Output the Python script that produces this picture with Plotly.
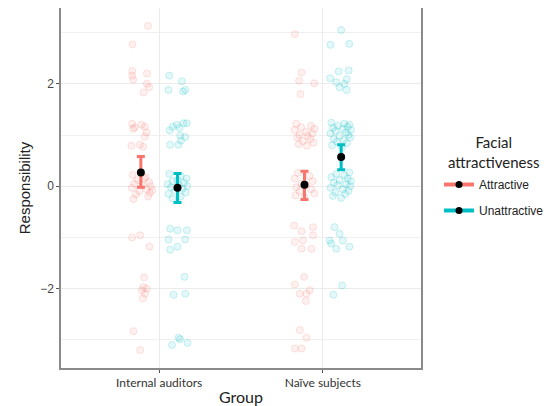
import plotly.graph_objects as go

groups = ["Internal auditors", "Naïve subjects"]
conditions = ["Attractive", "Unattractive"]
colors = {"Attractive": "#F8766D", "Unattractive": "#00BFC4"}
rgb = {"Attractive": "248,118,109", "Unattractive": "0,191,196"}

# Summary estimates (mean and interval) per group
att_mean = [0.27, 0.03]
att_hi = [0.58, 0.29]
att_lo = [-0.02, -0.26]
unatt_mean = [-0.03, 0.57]
unatt_hi = [0.25, 0.81]
unatt_lo = [-0.32, 0.32]

# Raw responses (y) and horizontal jitter (xj) per group x condition
ia_att_y = [3.13, 2.77, 2.25, 2.16, 2.08, 2.2, 2.0, 1.93, 1.83,
            1.22, 1.12, 1.2, 1.16, 1.05, 0.97, 0.79, 0.81, 0.77, 1.15,
            0.22, 0.18, 0.12, 0.08, 0.05, 0.02, 0.0, -0.03, -0.06, -0.1, -0.13, -0.16, -0.2, -0.25, 0.15, -0.08,
            -1.0, -0.96, -1.18,
            -1.78, -1.97, -2.03, -2.1, -2.0, -2.19, -2.83, -3.2]
ia_att_xj = [0.043, -0.051, -0.053, -0.053, -0.047, 0.037, 0.037, 0.05, 0.016,
             -0.053, -0.047, 0.004, 0.024, 0.034, 0.024, -0.058, -0.006, 0.014, -0.037,
             -0.05, 0.03, -0.02, 0.05, -0.04, 0.01, 0.06, -0.055, 0.035, -0.01, 0.055, -0.03, 0.045, -0.045, 0.02, 0.07,
             -0.053, -0.004, 0.053,
             0.02, 0.016, 0.006, 0.026, 0.037, 0.012, -0.045, -0.004]

ia_unatt_y = [2.16, 1.88, 2.05, 1.88, 1.85,
              1.09, 1.16, 1.2, 1.14, 1.23, 1.23, 0.99, 0.96, 0.89, 0.81, 0.81,
              0.24, 0.2, 0.15, 0.1, 0.07, 0.04, 0.02, 0.0, -0.02, -0.05, -0.09, -0.12, -0.15, -0.2, -0.24, 0.12,
              -0.83, -0.86, -0.86, -1.04, -1.04, -1.18, -1.24,
              -1.77, -2.12, -2.1, -2.96, -3.1, -2.99, -3.06]
ia_unatt_xj = [-0.05, -0.055, 0.027, 0.047, 0.033,
               -0.048, -0.03, -0.004, 0.012, 0.037, 0.057, 0.016, 0.047, 0.021, -0.045, 0.006,
               -0.05, 0.02, 0.055, -0.03, 0.04, -0.06, 0.01, 0.06, -0.04, 0.03, -0.015, 0.05, -0.055, 0.02, -0.03, 0.0,
               -0.045, 0.0, 0.057, -0.055, 0.047, 0.0, -0.045,
               0.043, -0.024, 0.047, 0.006, -0.034, 0.016, 0.061]

nv_att_y = [2.97, 2.22, 2.06, 2.01, 1.8,
            1.22, 1.18, 1.15, 1.12, 1.1, 1.06, 1.03, 1.0, 0.98, 0.95, 0.92, 0.88, 0.85, 0.82, 0.79,
            0.26, 0.2, 0.15, 0.1, 0.05, 0.02, -0.02, -0.06, -0.1, -0.14, -0.18, -0.21,
            -0.77, -0.88, -0.8, -0.96, -1.09, -1.22, -1.22, -1.06,
            -1.77, -1.92, -2.1, -2.1, -2.03, -2.24,
            -2.81, -2.96, -3.17, -3.17]
nv_att_xj = [-0.059, -0.018, -0.033, 0.059, -0.024,
             -0.05, 0.04, -0.02, 0.06, -0.06, 0.01, 0.05, -0.03, 0.02, -0.045, 0.035, -0.01, 0.055, -0.035, 0.015,
             -0.04, 0.03, -0.06, 0.05, -0.02, 0.01, -0.05, 0.04, -0.03, 0.06, -0.055, 0.0,
             -0.063, -0.018, 0.052, 0.052, -0.059, -0.018, 0.043, -0.009,
             -0.002, -0.059, -0.029, 0.012, 0.032, 0.008,
             -0.029, 0.012, -0.059, -0.018]

nv_unatt_y = [3.05, 2.76, 2.78,
              2.24, 2.26, 2.11, 2.09, 2.0, 1.93, 1.88, 2.03,
              1.24, 1.22, 1.2, 1.18, 1.16, 1.14, 1.12, 1.1, 1.08, 1.05, 1.03, 1.0, 0.98, 0.95, 0.92, 0.9, 0.87, 0.84, 0.8, 0.76,
              0.27, 0.24, 0.21, 0.18, 0.15, 0.12, 0.1, 0.07, 0.04, 0.02, 0.0, -0.03, -0.06, -0.09, -0.12, -0.15, -0.19, -0.23,
              -0.8, -0.93, -1.06, -1.06, -1.18, -1.22, -1.12,
              -1.94, -2.12]
nv_unatt_xj = [0.0, -0.065, 0.05,
               -0.015, 0.046, -0.067, 0.034, 0.02, -0.01, 0.034, -0.03,
               -0.06, 0.02, 0.05, -0.02, 0.04, -0.05, 0.01, 0.06, -0.035, 0.03, -0.065, 0.045, -0.01, 0.055, -0.045, 0.015, -0.025, 0.035, -0.055, 0.005,
               0.05, -0.03, 0.02, -0.06, 0.04, -0.01, 0.06, -0.045, 0.03, -0.02, 0.055, -0.065, 0.01, 0.045, -0.035, 0.025, -0.05, 0.0,
               -0.041, -0.01, -0.071, 0.01, 0.05, -0.03, -0.061,
               0.006, -0.047]

dodge = 0.112
raw = {
    ("Attractive", 0): (ia_att_y, ia_att_xj),
    ("Unattractive", 0): (ia_unatt_y, ia_unatt_xj),
    ("Attractive", 1): (nv_att_y, nv_att_xj),
    ("Unattractive", 1): (nv_unatt_y, nv_unatt_xj),
}
offset = {"Attractive": -dodge, "Unattractive": dodge}

fig = go.Figure()

for (cond, gi), (ys, xj) in raw.items():
    xs = [gi + offset[cond] + j for j in xj]
    fig.add_trace(go.Scatter(
        x=xs, y=ys, mode="markers", showlegend=False, hoverinfo="skip",
        marker=dict(size=7, color=f"rgba({rgb[cond]},0.10)",
                    line=dict(color=f"rgba({rgb[cond]},0.20)", width=1)),
    ))

summ = {
    "Attractive": (att_mean, att_hi, att_lo),
    "Unattractive": (unatt_mean, unatt_hi, unatt_lo),
}
for cond in conditions:
    m, hi, lo = summ[cond]
    xs = [i + offset[cond] for i in range(len(groups))]
    fig.add_trace(go.Scatter(
        x=xs, y=m, mode="markers", showlegend=False,
        marker=dict(size=8, color="black"),
        error_y=dict(type="data", symmetric=False,
                     array=[h - v for h, v in zip(hi, m)],
                     arrayminus=[v - l for l, v in zip(lo, m)],
                     color=colors[cond], thickness=3, width=4),
    ))

for cond in conditions:
    fig.add_trace(go.Scatter(
        x=[None], y=[None], mode="lines+markers", name=cond, legendgroup=cond,
        line=dict(color=colors[cond], width=4),
        marker=dict(size=7, color="black"),
    ))

# The page has an 8px body margin, so the figure is sized/offset to compensate.
fig.update_layout(
    width=544, height=398,
    margin=dict(l=53, r=131, t=0, b=38, autoexpand=False),
    paper_bgcolor="white", plot_bgcolor="white",
    font=dict(family="Liberation Sans, Arial, sans-serif", color="#222222"),
    legend=dict(
        x=1.05, xanchor="left", y=0.55, yanchor="top",
        font=dict(size=12, color="#222222"),
        itemwidth=30, tracegroupgap=7,
        bgcolor="rgba(0,0,0,0)",
    ),
    annotations=[dict(
        text="Facial<br>attractiveness", xref="paper", yref="paper",
        x=1.203, y=0.601, xanchor="center", yanchor="middle", align="center",
        showarrow=False, font=dict(family="Lato, sans-serif", size=15, color="#222222"),
    )],
)

fig.update_xaxes(
    range=[-0.6, 1.6], tickvals=[0, 1], ticktext=groups,
    showgrid=True, gridcolor="#ebebeb", gridwidth=1.2,
    showline=True, linecolor="#8a8a8a", linewidth=1.5, mirror=True,
    ticks="outside", ticklen=3, tickcolor="#555555",
    tickfont=dict(family="Lato, sans-serif", size=12, color="#333333"),
    zeroline=False, automargin=False,
    title=dict(text="Group", font=dict(family="Lato, sans-serif", size=16, color="#222222"),
               standoff=4),
)
fig.update_yaxes(
    range=[-3.55, 3.48], tick0=0, dtick=2,
    showgrid=True, gridcolor="#ebebeb", gridwidth=1.2,
    minor=dict(dtick=1, tick0=1, showgrid=True, gridcolor="#f0f0f0", gridwidth=0.8, ticks=""),
    showline=True, linecolor="#8a8a8a", linewidth=1.5, mirror=True,
    ticks="outside", ticklen=3, tickcolor="#555555",
    tickfont=dict(size=12, color="#444444"),
    tickformat="d",
    zeroline=False, automargin=False,
    title=dict(text="Responsibility", font=dict(size=15, color="#222222"), standoff=6),
)

fig.write_html("out.html")
